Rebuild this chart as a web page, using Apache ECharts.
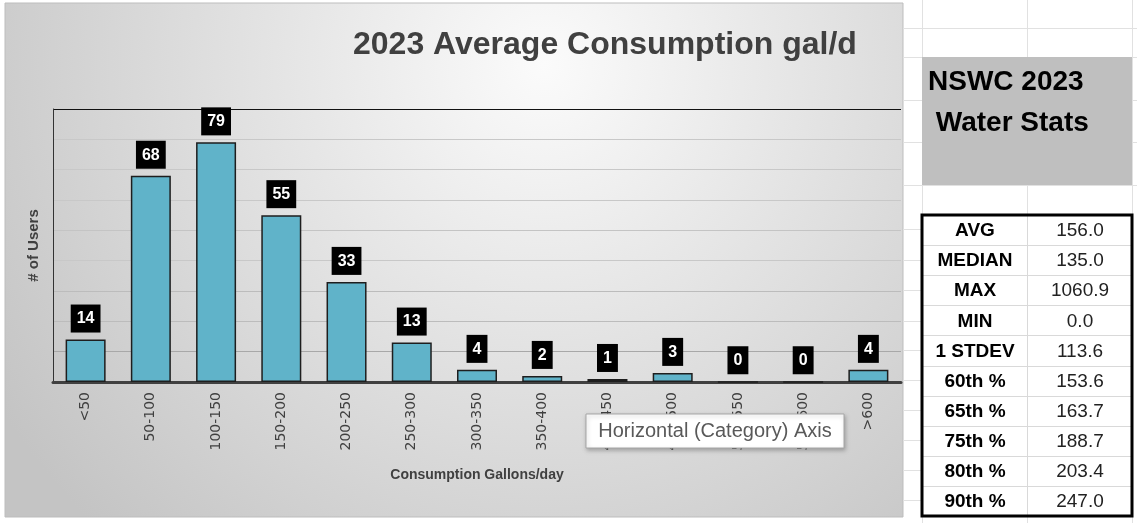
<!DOCTYPE html>
<html>
<head>
<meta charset="utf-8">
<script src="https://cdn.jsdelivr.net/npm/echarts@6/dist/echarts.min.js"></script>
<style>
  html, body { margin: 0; padding: 0; background: #fff; }
  #chart { width: 1137px; height: 523px; }
</style>
</head>
<body>
<div id="chart"></div>
<script>
const chartTitle = '2023 Average Consumption gal/d';
const categories = ['<50', '50-100', '100-150', '150-200', '200-250', '250-300', '300-350',
  '350-400', '400-450', '450-500', '500-550', '550-600', '>600'];
const userCounts = [14, 68, 79, 55, 33, 13, 4, 2, 1, 3, 0, 0, 4];

const statsTitle = ['NSWC 2023', ' Water Stats'];
const statNames = ['AVG', 'MEDIAN', 'MAX', 'MIN', '1 STDEV', '60th %', '65th %', '75th %', '80th %', '90th %'];
const statValues = ['156.0', '135.0', '1060.9', '0.0', '113.6', '153.6', '163.7', '188.7', '203.4', '247.0'];

const FONT = 'Liberation Sans';
const cellLine = '#e1e1e1';

let chartDom = document.getElementById('chart');
let myChart = echarts.init(chartDom);

// spreadsheet bits on the right
let sheet = [];
[922, 1027, 1132].forEach(x => {
  sheet.push({ type: 'line', shape: { x1: x + 0.5, y1: 0, x2: x + 0.5, y2: 523 }, style: { stroke: cellLine, lineWidth: 1 } });
});
[28, 57, 100, 142, 185].forEach(y => {
  sheet.push({ type: 'line', shape: { x1: 903, y1: y + 0.5, x2: 1137, y2: y + 0.5 }, style: { stroke: cellLine, lineWidth: 1 } });
});
[229, 260, 290, 321, 350, 380, 410, 440, 470, 500].forEach(y => {
  sheet.push({ type: 'line', shape: { x1: 903, y1: y + 0.5, x2: 922, y2: y + 0.5 }, style: { stroke: cellLine, lineWidth: 1 } });
});

// gray header box
sheet.push({ type: 'rect', shape: { x: 922, y: 57, width: 210, height: 128 }, style: { fill: '#bfbfbf' } });
statsTitle.forEach((t, i) => {
  sheet.push({ type: 'text', style: { text: t, x: 928, y: 82 + i * 41, verticalAlign: 'middle',
    font: 'bold 28px "' + FONT + '"', fill: '#000' } });
});

// stats table
const rowH = 30.1, tableTop = 215;
statNames.forEach((name, i) => {
  let y = tableTop + i * rowH;
  if (i > 0) {
    sheet.push({ type: 'line', shape: { x1: 922, y1: Math.round(y) + 0.5, x2: 1132, y2: Math.round(y) + 0.5 }, style: { stroke: '#d9d9d9', lineWidth: 1 } });
  }
  sheet.push({ type: 'text', style: { text: name, x: 975, y: y + rowH / 2 + 1, align: 'center', verticalAlign: 'middle',
    font: 'bold 19px "' + FONT + '"', fill: '#000' } });
  sheet.push({ type: 'text', style: { text: statValues[i], x: 1080, y: y + rowH / 2 + 1, align: 'center', verticalAlign: 'middle',
    font: '19px "' + FONT + '"', fill: '#222' } });
});
sheet.push({ type: 'line', shape: { x1: 1027.5, y1: tableTop, x2: 1027.5, y2: tableTop + 301 }, style: { stroke: '#d9d9d9', lineWidth: 1 } });
sheet.push({ type: 'rect', shape: { x: 922, y: tableTop, width: 210, height: 301 }, style: { fill: 'none', stroke: '#000', lineWidth: 3 } });

// hover tip left on the screenshot
sheet.push({ type: 'rect', z: 100, shape: { x: 586, y: 414, width: 258, height: 34 },
  style: { fill: '#fff', stroke: '#a6a6a6', lineWidth: 1, shadowBlur: 4, shadowColor: 'rgba(0,0,0,0.25)', shadowOffsetX: 1, shadowOffsetY: 2 } });
sheet.push({ type: 'text', z: 101, style: { text: 'Horizontal (Category) Axis', x: 715, y: 431, align: 'center', verticalAlign: 'middle',
  font: '20px "' + FONT + '"', fill: '#595959' } });

let option = {
  backgroundColor: '#fff',
  title: {
    text: chartTitle,
    left: 348,
    top: 24,
    textStyle: { fontFamily: FONT, fontWeight: 'bold', fontSize: 32, color: '#404040' }
  },
  grid: { left: 53, right: 236, top: 109, bottom: 141 },
  xAxis: {
    type: 'category',
    data: categories,
    name: 'Consumption Gallons/day',
    nameLocation: 'middle',
    nameGap: 86,
    nameTextStyle: { fontFamily: FONT, fontWeight: 'bold', fontSize: 14, color: '#404040' },
    axisLine: { lineStyle: { color: '#404040', width: 3 } },
    axisTick: { show: false },
    axisLabel: { rotate: 90, interval: 0, margin: 10, fontFamily: 'DejaVu Sans', fontSize: 14, color: '#404040' }
  },
  yAxis: {
    type: 'value',
    min: 0,
    max: 90,
    interval: 10,
    name: '# of Users',
    nameLocation: 'middle',
    nameGap: 12,
    nameRotate: 90,
    nameTextStyle: { fontFamily: FONT, fontWeight: 'bold', fontSize: 15, color: '#404040' },
    axisLabel: { show: false },
    axisTick: { show: false },
    axisLine: { show: true, lineStyle: { color: '#333', width: 1 } },
    splitLine: { lineStyle: { color: ['#ccc', '#a8a8a8', '#bcbcbc', '#bcbcbc', '#c8c8c8', '#c4c4c4', '#c8c8c8', '#c8c8c8', '#c8c8c8', '#111'], width: 1 } }
  },
  graphic: [
    { type: 'rect', z: -10, shape: { x: 5, y: 3, width: 898, height: 514 },
      style: {
        fill: new echarts.graphic.RadialGradient(0.6, 0.12, 1.25, [
          { offset: 0, color: '#fbfbfb' },
          { offset: 1, color: '#c4c4c4' }
        ]),
        stroke: '#bdbdbd', lineWidth: 1
      } },
    ...sheet
  ],
  series: [
    {
      type: 'bar',
      data: userCounts,
      barWidth: 40,
      itemStyle: { color: '#60b3c9', borderColor: '#1e1e1e', borderWidth: 1.5 },
      label: {
        show: true,
        position: 'top',
        distance: 7,
        backgroundColor: '#000',
        color: '#fff',
        fontFamily: FONT,
        fontWeight: 'bold',
        fontSize: 16,
        lineHeight: 17,
        padding: [6, 6, 5, 6]
      }
    }
  ]
};

option && myChart.setOption(option);
</script>
</body>
</html>
